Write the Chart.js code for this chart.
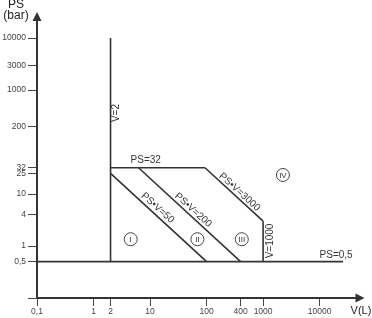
<!DOCTYPE html>
<html>
<head>
<meta charset="utf-8">
<script src="https://cdn.jsdelivr.net/npm/chart.js@4/dist/chart.umd.min.js"></script>
<style>
html,body{margin:0;padding:0;background:#fff;}
#wrap{width:372px;height:318px;}
</style>
</head>
<body>
<div id="wrap"><canvas id="c"></canvas></div>
<script>
// ---- data (V in litres, PS in bar) ----
const xTicks = [0.1, 1, 2, 10, 100, 400, 1000, 10000];
const yTicks = [0.1, 0.5, 1, 4, 10, 25, 32, 200, 1000, 3000, 10000];
const lineV2     = [[2, 0.5], [2, 10000]];
const linePS32   = [[2, 32], [93.75, 32]];
const linePSV3000= [[93.75, 32], [1000, 3]];
const lineV1000  = [[1000, 3], [1000, 0.5]];
const linePS05   = [[0.1, 0.5], [26000, 0.5]];
const linePSV50  = [[2, 25], [100, 0.5]];
const linePSV200 = [[6.25, 32], [400, 0.5]];
const regionNames = ['I', 'II', 'III', 'IV'];
const regionV  = [4.55, 68.8, 420, 2243];
const regionPS = [1.35, 1.35, 1.35, 23.2];
const lineLabels = ['PS=32', 'PS\u2022V=50', 'PS\u2022V=200', 'PS\u2022V=3000', 'V=1000', 'V=2', 'PS=0,5'];
const labelV   = [8.4, 13.6, 57.9, 383, 1330, 2.52, 19600];
const labelPS  = [45, 5.4, 4.9, 10.9, 1.25, 361, 0.67];
const labelRot = [0, 42, 42, 42, -90, -90, 0];

const fmt = v => String(v).replace('.', ',');
const pts = arr => arr.map(p => ({x: p[0], y: p[1]}));
const ink = '#333';

const lineDs = [lineV2, linePS32, linePSV3000, lineV1000, linePS05, linePSV50, linePSV200].map(d => ({
  type: 'scatter', data: pts(d), showLine: true, borderColor: ink, borderWidth: 1.6,
  pointRadius: 0, fill: false
}));
const regionDs = {
  type: 'scatter',
  data: regionV.map((v, i) => ({x: v, y: regionPS[i]})),
  pointRadius: 6.5, pointBackgroundColor: '#fff', pointBorderColor: '#444', pointBorderWidth: 1
};

const decor = {
  id: 'decor',
  afterDatasetsDraw(chart) {
    const {ctx, scales: {x, y}, chartArea: a} = chart;
    ctx.save();
    ctx.fillStyle = ink;
    ctx.textAlign = 'center';
    ctx.textBaseline = 'middle';
    // region numerals
    ctx.font = '8px "Liberation Sans", Arial, sans-serif';
    regionNames.forEach((t, i) => {
      ctx.fillText(t, x.getPixelForValue(regionV[i]), y.getPixelForValue(regionPS[i]) + 0.5);
    });
    // line labels
    ctx.font = '10px "Liberation Sans", Arial, sans-serif';
    lineLabels.forEach((t, i) => {
      ctx.save();
      ctx.translate(x.getPixelForValue(labelV[i]), y.getPixelForValue(labelPS[i]));
      ctx.rotate(labelRot[i] * Math.PI / 180);
      ctx.fillText(t, 0, 0);
      ctx.restore();
    });
    // axis arrows
    ctx.strokeStyle = ink; ctx.lineWidth = 2;
    ctx.beginPath(); ctx.moveTo(a.left, a.bottom); ctx.lineTo(a.left, a.top + 4); ctx.stroke();
    ctx.beginPath(); ctx.moveTo(a.left, a.bottom); ctx.lineTo(a.right - 4, a.bottom); ctx.stroke();
    ctx.beginPath();
    ctx.moveTo(a.left, a.top); ctx.lineTo(a.left - 4.5, a.top + 9); ctx.lineTo(a.left + 4.5, a.top + 9); ctx.closePath(); ctx.fill();
    ctx.beginPath();
    ctx.moveTo(a.right, a.bottom); ctx.lineTo(a.right - 9, a.bottom - 4.5); ctx.lineTo(a.right - 9, a.bottom + 4.5); ctx.closePath(); ctx.fill();
    // axis titles
    ctx.fillStyle = '#222';
    ctx.font = '12px "Liberation Sans", Arial, sans-serif';
    ctx.fillText('PS', 16, 5);
    ctx.fillText('(bar)', 16, 16);
    ctx.font = '11px "Liberation Sans", Arial, sans-serif';
    ctx.fillText('V(L)', 361, 311);
    ctx.restore();
  }
};

new Chart(document.getElementById('c'), {
  data: {datasets: [...lineDs, regionDs]},
  options: {
    responsive: true, maintainAspectRatio: false, animation: false,
    layout: {padding: {top: 12, right: 3, left: 0, bottom: 0}},
    plugins: {legend: {display: false}, tooltip: {enabled: false}},
    scales: {
      x: {
        type: 'logarithmic', min: 0.1, max: 62230,
        afterBuildTicks: s => { s.ticks = xTicks.map(v => ({value: v})); },
        afterFit: s => { s.height = 20; },
        ticks: {autoSkip: false, maxRotation: 0, padding: 1, color: '#444',
          font: {family: '"Liberation Sans", Arial, sans-serif', size: 8.5},
          callback: v => fmt(v)},
        grid: {drawOnChartArea: false, drawTicks: true, tickLength: 8, color: '#444', lineWidth: 1},
        border: {display: false}
      },
      y: {
        type: 'logarithmic', min: 0.1, max: 31623,
        afterBuildTicks: s => { s.ticks = yTicks.map(v => ({value: v})); },
        afterFit: s => { s.width = 37; },
        ticks: {autoSkip: false, padding: 2, color: '#444',
          font: {family: '"Liberation Sans", Arial, sans-serif', size: 8.5},
          callback: v => v === 0.1 ? '' : fmt(v)},
        grid: {drawOnChartArea: false, drawTicks: true, tickLength: 9, color: '#444', lineWidth: 1},
        border: {display: false}
      }
    }
  },
  plugins: [decor]
});
</script>
</body>
</html>
